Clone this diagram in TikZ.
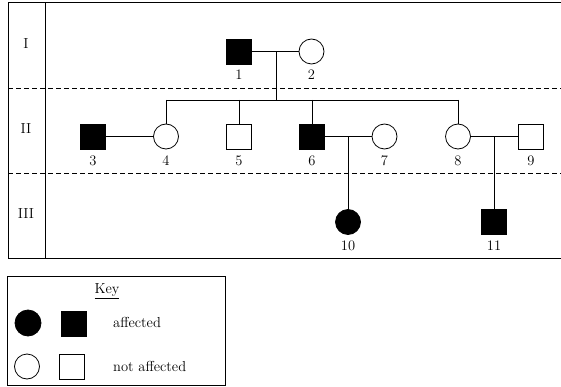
\documentclass[tikz,border=0pt]{standalone}
\begin{document}
\begin{tikzpicture}[x=1pt,y=-1pt,
  every node/.style={font=\fontsize{14.5}{17}\selectfont},
  sq/.style={draw, rectangle, minimum size=25pt, inner sep=0pt, line width=0.8pt},
  ci/.style={draw, circle, minimum size=25pt, inner sep=0pt, line width=0.8pt},
  aff/.style={fill=black},
  ln/.style={line width=0.8pt},
  frame/.style={line width=1pt},
  sep/.style={line width=0.9pt, dash pattern=on 5pt off 3pt},
  lbl/.style={inner sep=0pt}]
\useasboundingbox (0,0) rectangle (561,387);
% frame
\coordinate (tl) at (8,3);
\coordinate (tr) at (561,3);
\coordinate (bl) at (8,258);
\coordinate (br) at (561,258);
\draw[frame] (tl) -- (tr);
\draw[frame] (bl) -- (br);
\draw[frame] (8,2.5) -- (8,258.5);
\draw[frame] (45,3) -- (45,258);
\draw[sep] (8,88) -- (561,88);
\draw[sep] (8,173) -- (561,173);
\node[lbl] (gI) at (26,44) {I};
\node[lbl] (gII) at (26,129) {II};
\node[lbl] (gIII) at (26,214) {III};
% generation I
\node[sq,aff] (p1) at (239,51.5) {};
\node[ci] (p2) at (311.5,51.5) {};
\node[lbl] (l1) at (239,75) {1};
\node[lbl] (l2) at (311.5,75) {2};
% generation II
\node[sq,aff] (p3) at (93,136.5) {};
\node[ci] (p4) at (166,136.5) {};
\node[sq] (p5) at (239,136.5) {};
\node[sq,aff] (p6) at (312,136.5) {};
\node[ci] (p7) at (384.5,136.5) {};
\node[ci] (p8) at (458,136.5) {};
\node[sq] (p9) at (531,136.5) {};
\foreach \i/\x in {3/93,4/166,5/239,6/312,7/384.5,8/458,9/531}
  \node[lbl] (l\i) at (\x,161) {\i};
% generation III
\node[ci,aff] (p10) at (348,222) {};
\node[sq,aff] (p11) at (494,222) {};
\node[lbl] (l10) at (348,246) {10};
\node[lbl] (l11) at (494,246) {11};
% connectors
\coordinate (m12) at (276,51.5);
\coordinate (s2) at (276,100);
\coordinate (s4) at (166,100);
\coordinate (s5) at (239,100);
\coordinate (s6) at (312,100);
\coordinate (s8) at (458,100);
\coordinate (m67) at (348,136.5);
\coordinate (m89) at (494,136.5);
\draw[ln] (p1) -- (p2);
\draw[ln] (m12) -- (s2);
\draw[ln] (s4) -- (s8);
\draw[ln] (s4) -- (p4);
\draw[ln] (s5) -- (p5);
\draw[ln] (s6) -- (p6);
\draw[ln] (s8) -- (p8);
\draw[ln] (p3) -- (p4);
\draw[ln] (p6) -- (p7);
\draw[ln] (p8) -- (p9);
\draw[ln] (m67) -- (p10);
\draw[ln] (m89) -- (p11);
% key
\node[draw, frame, minimum width=217.5pt, minimum height=109pt, inner sep=0pt] (key) at (116.25,330.5) {};
\node[lbl] (keyt) at (107,291) {\underline{Key}};
\node[ci,aff, minimum size=26pt] (kc1) at (28,323) {};
\node[sq,aff] (ks1) at (73.5,323.5) {};
\node[ci] (kc2) at (27,366.5) {};
\node[sq] (ks2) at (71.5,367) {};
\node[lbl, anchor=west] (ka) at (113,322) {affected};
\node[lbl, anchor=west] (kn) at (113,366) {not affected};
\end{tikzpicture}
\end{document}
